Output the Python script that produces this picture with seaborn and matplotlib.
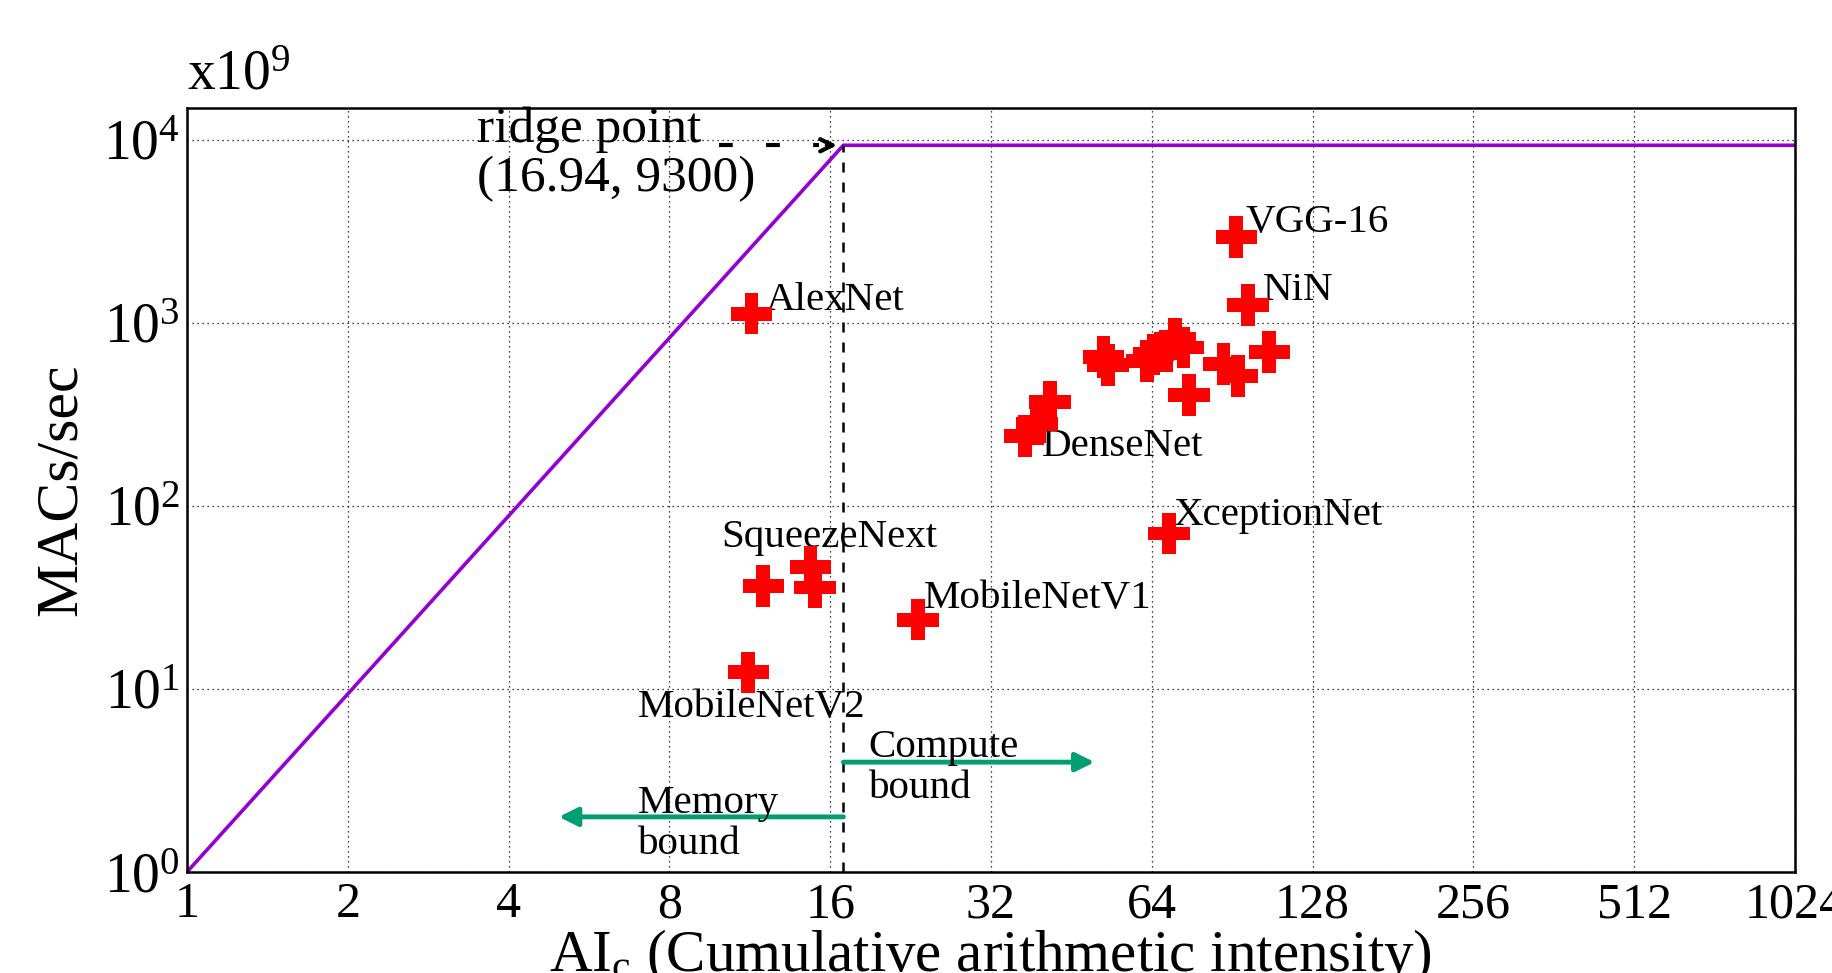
import numpy as np
import pandas as pd
import matplotlib
matplotlib.use('Agg')
import matplotlib.pyplot as plt
import matplotlib.ticker as mticker
import seaborn as sns

# -------------------------------------------------------
# Data
# -------------------------------------------------------
# roofline (x = AI_c, y = MACs/sec in 1e9)
roof_x = [1, 16.94, 1024]
roof_y = [1, 9300, 9300]
ridge_x = 16.94
ridge_y = 9300

# measured networks
ai_c = [11.4, 92.2, 97.0, 106.3, 87.2, 92.7, 75.1, 52.0, 53.0,
        62.6, 64.5, 68.0, 70.8, 73.4, 41.3, 39.0, 37.1,
        68.9, 23.4, 11.25, 12.0, 14.7, 15.0]
macs = [1120, 2930, 1250, 692, 593, 512, 402, 650, 585,
        618, 671, 700, 811, 731, 369, 279, 241,
        70.5, 23.9, 12.3, 36.4, 46.3, 35.8]

x_ticks = [1, 2, 4, 8, 16, 32, 64, 128, 256, 512, 1024]
y_ticks = [1, 10, 100, 1000, 10000]

df = pd.DataFrame({'ai': ai_c, 'macs': macs})
roof = pd.DataFrame({'ai': roof_x, 'macs': roof_y})

# -------------------------------------------------------
# Style
# -------------------------------------------------------
sns.set_style('white')
plt.rcParams['font.family'] = ['Liberation Serif', 'DejaVu Serif']
plt.rcParams['mathtext.fontset'] = 'custom'
plt.rcParams['mathtext.rm'] = 'Liberation Serif'
plt.rcParams['mathtext.it'] = 'Liberation Serif:italic'
for key in ['text.color', 'axes.labelcolor', 'xtick.color', 'ytick.color']:
    plt.rcParams[key] = 'black'

purple = '#9400D3'
green = '#009E73'

fig = plt.figure(figsize=(18.33, 9.73), dpi=100)
ax = fig.add_axes([0.102, 0.1038, 0.8772, 0.7852])

ax.set_xscale('log', base=2)
ax.set_yscale('log')

# roofline
sns.lineplot(data=roof, x='ai', y='macs', color=purple, linewidth=2.6, ax=ax)
ax.plot([ridge_x, ridge_x], [1, ridge_y], color='k', linestyle=(0, (4, 4)), linewidth=1.8)

# networks
sns.scatterplot(data=df, x='ai', y='macs', marker='P', s=900, color='red',
                edgecolor='none', ax=ax, zorder=5)

ax.set_xlim(1, 1024)
ax.set_ylim(1, 10 ** 4.172)

# labels
lab_fs = 29.5
ax.text(12.1, 1318, 'AlexNet', fontsize=lab_fs, va='center')
ax.text(95.8, 3525, 'VGG-16', fontsize=lab_fs, va='center')
ax.text(103.3, 1503, 'NiN', fontsize=lab_fs, va='center')
ax.text(39.9, 210, 'DenseNet', fontsize=lab_fs, va='center')
ax.text(70.1, 88.3, 'XceptionNet', fontsize=lab_fs, va='center')
ax.text(10.0, 66.8, 'SqueezeNext', fontsize=lab_fs, va='center')
ax.text(23.95, 31.1, 'MobileNetV1', fontsize=lab_fs, va='center')
ax.text(7.0, 7.94, 'MobileNetV2', fontsize=lab_fs, va='center')

# ridge point
ax.text(3.49, 8300, 'ridge point\n(16.94, 9300)', fontsize=37, va='center',
        linespacing=1.1)
ax.plot([9.9, ridge_x * 0.9], [ridge_y, ridge_y], color='k', linestyle=(0, (3.3, 8)),
        linewidth=3)
ax.annotate('', xy=(ridge_x * 0.985, ridge_y), xytext=(ridge_x * 0.92, ridge_y),
            arrowprops=dict(arrowstyle='->', color='k', lw=3, mutation_scale=22))

# compute / memory bound
ax.annotate('', xy=(50, 3.98), xytext=(ridge_x, 3.98),
            arrowprops=dict(arrowstyle='-|>', color=green, lw=3.5, mutation_scale=28,
                            shrinkA=0, shrinkB=0))
ax.annotate('', xy=(4.97, 2.0), xytext=(ridge_x, 2.0),
            arrowprops=dict(arrowstyle='-|>', color=green, lw=3.5, mutation_scale=28,
                            shrinkA=0, shrinkB=0))
ax.text(18.9, 3.7, 'Compute\nbound', fontsize=lab_fs, va='center', linespacing=1.15)
ax.text(7.0, 1.82, 'Memory\nbound', fontsize=lab_fs, va='center', linespacing=1.15)

# axes
ax.xaxis.set_major_locator(mticker.FixedLocator(x_ticks))
ax.xaxis.set_major_formatter(mticker.FuncFormatter(lambda v, p: '%d' % v))
ax.xaxis.set_minor_locator(mticker.LogLocator(base=2, subs=(1.25, 1.5, 1.75)))
ax.xaxis.set_minor_formatter(mticker.NullFormatter())
ax.yaxis.set_major_locator(mticker.FixedLocator(y_ticks))
ax.yaxis.set_minor_locator(mticker.LogLocator(base=10, subs=(2.5, 5.0, 7.5)))
ax.yaxis.set_minor_formatter(mticker.NullFormatter())

ax.tick_params(axis='x', which='major', labelsize=36, direction='in', length=10, width=1.2, pad=7)
ax.tick_params(axis='y', which='major', labelsize=40, direction='in', length=10, width=1.2, pad=5)
ax.tick_params(which='minor', direction='in', length=5, width=1.0)

ax.grid(which='major', color='k', linestyle=(0, (1, 3)), linewidth=0.9)
for s in ax.spines.values():
    s.set_color('k')
    s.set_linewidth(1.8)

ax.set_xlabel(r'AI$_{\mathrm{c}}$ (Cumulative arithmetic intensity)', fontsize=42.5)
ax.xaxis.set_label_coords(0.5, -0.072)
ax.xaxis.label.set_va('top')
ax.set_ylabel('MACs/sec', fontsize=43)
ax.yaxis.set_label_coords(-0.078, 0.5)
ax.yaxis.label.set_va('center')

ax.text(0.0, 1.008, r'x10$^{9}$', transform=ax.transAxes, fontsize=40, va='bottom', ha='left')

plt.savefig('out.png', dpi=100)
